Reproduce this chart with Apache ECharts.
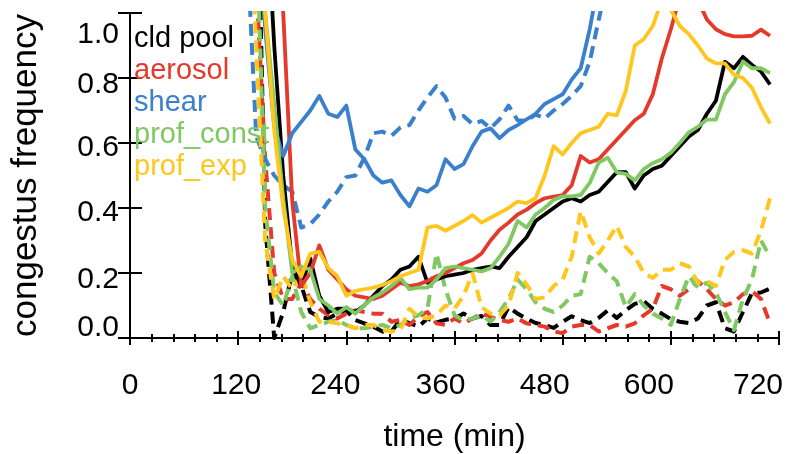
<!DOCTYPE html>
<html><head><meta charset="utf-8">
<script src="https://cdn.jsdelivr.net/npm/echarts@6/dist/echarts.min.js"></script>
<style>html,body{margin:0;padding:0;background:#fff}#c{width:809px;height:454px}</style>
</head><body><div id="c"></div>
<script>
// ---------- data ----------
const times = [130,140,150,160,170,180,190,200,210,220,230,240,250,260,270,280,290,300,310,320,330,340,350,360,370,380,390,400,410,420,430,440,450,460,470,480,490,500,510,520,530,540,550,560,570,580,590,600,610,620,630,640,650,660,670,680,690,700,710];

const legendNames = ['cld pool','aerosol','shear','prof_const','prof_exp'];
const xTickLabels = [0,120,240,360,480,600,720];
const yTickLabels = ['0.0','0.2','0.4','0.6','0.8','1.0'];

// solid lines
const cldPoolSolid = [null,null,1.4,0.9,0.5,0.22,0.16,0.245,0.13,0.08,0.09,0.09,0.08,0.1,0.13,0.16,0.18,0.21,0.22,0.25,0.17,0.18,0.19,0.195,0.2,0.21,0.215,0.22,0.215,0.25,0.28,0.31,0.36,0.38,0.4,0.42,0.43,0.42,0.44,0.45,0.48,0.51,0.51,0.46,0.5,0.52,0.53,0.56,0.59,0.62,0.64,0.69,0.73,0.85,0.83,0.865,0.84,0.82,0.78];
const aerosolSolid = [null,null,1.8,1.4,1.0,0.42,0.16,0.2,0.285,0.21,0.18,0.15,0.13,0.125,0.12,0.13,0.15,0.17,0.16,0.165,0.175,0.19,0.2,0.215,0.23,0.24,0.26,0.3,0.333,0.355,0.38,0.395,0.415,0.43,0.435,0.44,0.47,0.56,0.54,0.55,0.58,0.61,0.64,0.67,0.69,0.75,0.86,0.95,1.05,1.1,1.04,0.98,0.95,0.935,0.928,0.928,0.93,0.949,0.93];
const shearSolid = [null,1.4,0.95,0.65,0.56,0.63,0.665,0.7,0.745,0.69,0.68,0.715,0.58,0.55,0.5,0.478,0.485,0.44,0.405,0.46,0.45,0.47,0.55,0.52,0.535,0.59,0.635,0.645,0.615,0.64,0.655,0.673,0.69,0.72,0.735,0.75,0.795,0.83,0.95,1.1,null,null,null,null,null,null,null,null,null,null,null,null,null,null,null,null,null,null,null];
const profConstSolid = [null,1.4,1.0,0.72,0.43,0.2,0.22,0.21,0.12,0.1,0.075,0.095,0.075,0.1,0.125,0.14,0.16,0.185,0.15,0.155,0.155,0.18,0.215,0.22,0.215,0.21,0.205,0.215,0.25,0.29,0.36,0.34,0.38,0.4,0.425,0.436,0.436,0.44,0.477,0.54,0.555,0.51,0.505,0.485,0.52,0.538,0.55,0.57,0.6,0.633,0.65,0.672,0.672,0.75,0.787,0.851,0.83,0.83,0.815];
const profExpSolid = [null,1.35,1.0,0.64,0.4,0.24,0.19,0.26,0.265,0.215,0.19,0.13,0.145,0.15,0.155,0.163,0.175,0.19,0.2,0.21,0.34,0.345,0.33,0.345,0.36,0.378,0.355,0.37,0.385,0.4,0.42,0.415,0.43,0.5,0.59,0.565,0.6,0.63,0.64,0.65,0.69,0.685,0.76,0.9,0.92,0.96,1.04,1.01,0.96,0.935,0.9,0.86,0.845,0.845,0.81,0.8,0.77,0.71,0.66];

// dashed lines
const cldPoolDash = [null,1.6,0.35,0.0,0.08,0.2,0.16,0.08,0.065,0.06,0.075,0.085,0.055,0.045,0.035,0.02,0.02,0.056,0.046,0.035,0.06,0.048,0.056,0.06,0.075,0.06,0.068,0.04,0.04,0.095,0.075,0.06,0.046,0.04,0.031,0.05,0.067,0.055,0.046,0.062,0.085,0.062,0.085,0.105,0.113,0.09,0.075,0.058,0.05,0.046,0.06,0.1,0.11,0.03,0.02,0.08,0.138,0.14,0.152];
const aerosolDash = [null,1.1,0.55,0.2,0.12,0.12,0.17,0.12,0.09,0.07,0.06,0.075,0.085,0.08,0.075,0.075,0.05,0.055,0.04,0.066,0.08,0.045,0.04,0.06,0.045,0.06,0.075,0.065,0.055,0.05,0.06,0.045,0.04,0.035,0.02,0.015,0.035,0.04,0.04,0.02,0.03,0.04,0.035,0.045,0.07,0.09,0.16,0.15,0.13,0.15,0.175,0.15,0.12,0.1,0.11,0.135,0.145,0.12,0.045];
const shearDash = [1.2,0.62,0.55,0.5,0.47,0.45,0.34,0.35,0.38,0.42,0.45,0.495,0.5,0.555,0.63,0.635,0.622,0.648,0.655,0.7,0.74,0.775,0.74,0.675,0.683,0.658,0.668,0.645,0.673,0.715,0.67,0.668,0.688,0.675,0.7,0.72,0.745,0.775,0.85,0.98,1.1,null,null,null,null,null,null,null,null,null,null,null,null,null,null,null,null,null,null];
const profConstDash = [null,1.3,0.4,0.14,0.1,0.19,0.08,0.03,0.04,0.05,0.055,0.04,0.03,0.03,0.035,0.04,0.03,0.04,0.06,0.07,0.09,0.26,0.15,0.07,0.055,0.06,0.07,0.05,0.08,0.12,0.18,0.15,0.11,0.09,0.08,0.1,0.13,0.135,0.25,0.23,0.2,0.175,0.095,0.135,0.1,0.075,0.06,0.04,0.12,0.19,0.155,0.17,0.14,0.08,0.025,0.12,0.18,0.3,0.25];
const profExpDash = [1.5,0.9,0.3,0.12,0.19,0.15,0.2,0.11,0.05,0.05,0.045,0.04,0.03,0.04,0.04,0.025,0.02,0.025,0.09,0.065,0.06,0.07,0.1,0.09,0.13,0.2,0.095,0.075,0.07,0.1,0.2,0.165,0.12,0.125,0.16,0.18,0.25,0.39,0.31,0.26,0.3,0.345,0.28,0.25,0.2,0.185,0.21,0.21,0.23,0.22,0.17,0.175,0.16,0.24,0.265,0.27,0.26,0.33,0.43];

// ---------- styles ----------
const FONT = '"Liberation Sans", Helvetica, Arial, sans-serif';
const colors = {black:'#000000', red:'#e4392b', blue:'#3a80cc', green:'#7fc862', yellow:'#ffc61e'};
const legendColors = [colors.black, colors.red, colors.blue, colors.green, colors.yellow];
// label nudges (px) to mimic the reference's label placement
const yLabelShift = {'0.0':-10,'0.2':7,'0.4':5,'0.6':5,'0.8':7,'1.0':22};
const xLabelShift = {0:0,120:-2,240:-11,360:-14,480:-18,600:-22,720:-21};
const TICK_FS = 30;

const pts = vals => times.map((t,i)=>[t, vals[i] === null ? '-' : vals[i]]);

const yRich = {}, xRich = {};
yTickLabels.forEach((k,i)=>{
  const d = yLabelShift[k];
  yRich['y'+i] = {fontSize:TICK_FS, fontFamily:FONT, color:'#000', padding:[Math.max(0,2*d),0,Math.max(0,-2*d),0]};
});
xTickLabels.forEach((k,i)=>{
  const d = xLabelShift[k];
  xRich['x'+i] = {fontSize:TICK_FS, fontFamily:FONT, color:'#000', padding:[0,Math.max(0,-2*d),0,Math.max(0,2*d)]};
});

const axisLineStyle = {show:true, lineStyle:{color:'#000', width:2}};
const baseX = {type:'value', min:0, max:720, interval:120, splitLine:{show:false}};
const baseY = {type:'value', min:0, max:1, interval:0.2, splitLine:{show:false}};

function line(name, vals, color, dashed){
  return {
    name, type:'line', data: pts(vals), showSymbol:false, symbol:'none',
    clip:true, connectNulls:false, animation:false,
    lineStyle:{color, width: dashed ? 4 : 3.8, type: dashed ? [12,7] : 'solid', cap:'butt', join:'round'},
    itemStyle:{color}, z: dashed ? 2 : 3
  };
}

const chart = echarts.init(document.getElementById('c'), null, {renderer:'canvas'});
chart.setOption({
  backgroundColor:'#ffffff',
  animation:false,
  grid:{left:130, top:13, width:649, height:325, containLabel:false, outerBoundsMode:'none'},
  legend:{
    orient:'vertical', left:129, top:24, icon:'none', itemWidth:0, itemHeight:0, itemGap:3,
    selectedMode:false, padding:0,
    textStyle:{fontSize:29, fontFamily:FONT},
    data: legendNames.map((n,i)=>({name:n, textStyle:{color:legendColors[i]}}))
  },
  xAxis:[
    Object.assign({}, baseX, {
      position:'bottom', axisLine:axisLineStyle,
      axisTick:{show:true, inside:true, length:7, lineStyle:{color:'#000', width:2}},
      minorTick:{show:true, splitNumber:5, length:4, lineStyle:{color:'#000', width:2}},
      axisLabel:{show:true, margin:33, customValues:xTickLabels,
        formatter:(v)=>{const i=xTickLabels.indexOf(Math.round(v)); return '{x'+i+'|'+Math.round(v)+'}';},
        rich:xRich},
      name:'time (min)', nameLocation:'middle', nameGap:83,
      nameTextStyle:{fontSize:32, fontFamily:FONT, color:'#000'}
    }),
    Object.assign({}, baseX, {
      position:'top', axisLine:axisLineStyle,
      axisTick:{show:true, inside:true, length:7, lineStyle:{color:'#000', width:2}},
      minorTick:{show:true, splitNumber:5, length:4, lineStyle:{color:'#000', width:2}},
      axisLabel:{show:false}
    })
  ],
  yAxis:[
    Object.assign({}, baseY, {
      position:'left', axisLine:axisLineStyle,
      axisTick:{show:true, inside:true, length:12, lineStyle:{color:'#000', width:2}},
      axisLabel:{show:true, margin:11,
        formatter:(v)=>{const t=v.toFixed(1); const i=yTickLabels.indexOf(t); return '{y'+i+'|'+t+'}';},
        rich:yRich},
      name:'congestus frequency', nameLocation:'middle', nameGap:86, nameRotate:90,
      nameTextStyle:{fontSize:35, fontFamily:FONT, color:'#000'}
    }),
    Object.assign({}, baseY, {
      position:'right', axisLine:axisLineStyle,
      axisTick:{show:true, inside:true, length:12, lineStyle:{color:'#000', width:2}},
      axisLabel:{show:false}
    })
  ],
  series:[
    line('cld pool dashed', cldPoolDash, colors.black, true),
    line('aerosol dashed', aerosolDash, colors.red, true),
    line('shear dashed', shearDash, colors.blue, true),
    line('prof_const dashed', profConstDash, colors.green, true),
    line('prof_exp dashed', profExpDash, colors.yellow, true),
    line('cld pool', cldPoolSolid, colors.black, false),
    line('aerosol', aerosolSolid, colors.red, false),
    line('shear', shearSolid, colors.blue, false),
    line('prof_const', profConstSolid, colors.green, false),
    line('prof_exp', profExpSolid, colors.yellow, false)
  ]
});
</script>
</body></html>
